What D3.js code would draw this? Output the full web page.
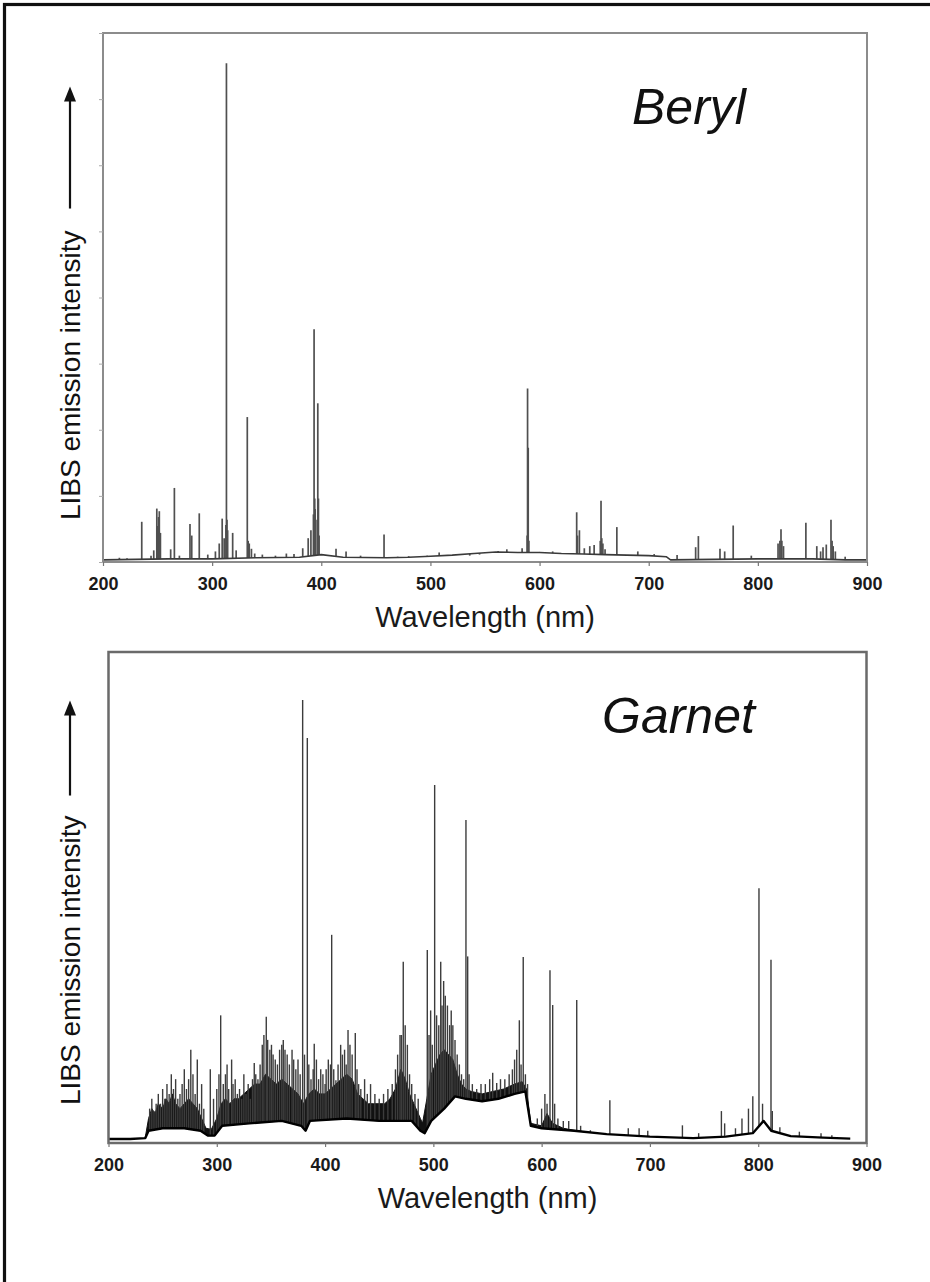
<!DOCTYPE html>
<html>
<head>
<meta charset="utf-8">
<script src="https://cdn.jsdelivr.net/npm/d3@7"></script>
<style>
  body { margin: 0; background: #fff; }
  svg { display: block; }
  text { font-family: "Liberation Sans", Arial, Helvetica, sans-serif; }
</style>
</head>
<body>
<svg id="fig" width="930" height="1282"></svg>
<script>
// Wavelength axis ticks (nm)
const wavelengthTicks = [200, 300, 400, 500, 600, 700, 800, 900];

// ---- Beryl spectrum ----
// slowly varying background (continuum), relative intensity
const berylContWl = [200, 230, 260, 300, 340, 380, 400, 420, 460, 480, 500, 520, 540, 560, 580, 600, 620, 640, 660, 680, 700, 716, 720, 760, 800, 850, 880, 900];
const berylContI  = [0.4, 0.5, 0.6, 0.6, 0.8, 0.9, 1.4, 0.9, 0.8, 0.9, 1.1, 1.3, 1.6, 1.9, 1.8, 1.8, 1.6, 1.5, 1.4, 1.3, 1.2, 1.0, 0.4, 0.5, 0.6, 0.6, 0.4, 0.4];
// emission lines: wavelength (nm) and peak intensity
const berylLineWl = [215, 222, 235.5, 244, 246.5, 249.3, 249.9, 250.2, 250.9, 251.6, 252.6, 262, 265.4, 270, 279.7, 281.3, 288.2, 296, 303, 306.5, 309.2, 311,
  312.6, 313.1, 313.6, 314.2, 318.8, 322, 332.2, 333, 334, 336, 339, 346, 358, 368, 375, 383, 388, 390.5, 392.8, 393.4, 394, 394.4, 396.2, 396.8, 397.4, 398, 413.5,
  422.7, 436, 457.5, 470, 480, 497, 508, 517, 536, 545, 562, 570, 584, 588.6, 589, 589.6, 590.2, 600, 612, 634, 634.7, 636.5, 641,
  646, 650, 655.6, 656.3, 657, 658, 660, 670.8, 690, 705, 726, 743, 745.5, 765.3, 769.6, 777.4, 794, 818.5, 820.2, 821.2, 822, 823.5, 844, 854,
  857.5, 859.7, 862.7, 867, 868, 869, 871, 880];
const berylLineI  = [0.8, 0.7, 7.6, 1.2, 2.2, 10.1, 6.5, 6.8, 8.5, 9.6, 5.5, 2.4, 14, 1.2, 7.2, 5, 9.2, 1.4, 2, 3.5, 8.2, 4.5,
  7, 94.3, 8, 6, 5.5, 2.2, 27.4, 4, 3.5, 2.5, 1.6, 1.4, 1.2, 1.6, 1.5, 2.6, 4.5, 6, 9, 44, 12, 10, 8, 30, 12, 5, 2.5,
  2, 1.2, 5.2, 1, 1.1, 1.2, 1.8, 1.3, 1.2, 1.4, 2.1, 2.4, 2.6, 5, 32.8, 21.6, 4, 1.9, 2, 9.4, 5, 6, 2.6,
  3, 3.2, 4, 11.6, 4.5, 3.5, 2.4, 6.6, 2, 1.5, 1.3, 2.8, 4.9, 2.5, 2, 6.9, 1.2, 3.5, 4, 6.2, 4, 3, 7.4, 3,
  2, 2.8, 3.3, 8.0, 4, 3, 2, 1];

// ---- Garnet spectrum ----
// continuum (lower edge of the trace)
const garnetContWl = [200, 220, 234, 237, 250, 270, 285, 292, 298, 305, 330, 360, 378, 382, 386, 420, 450, 480, 488, 492, 498, 510, 520, 530, 545, 560, 575, 585, 590, 600, 630, 660, 700, 740, 770, 795, 805, 812, 830, 860, 885];
const garnetContI  = [0.8, 0.8, 1.0, 2.5, 3, 3, 2.5, 1.5, 1.5, 3.5, 4, 4.5, 3.5, 2.5, 4.5, 5, 4.5, 4.5, 2.5, 2, 4.5, 7, 9.5, 9, 8.5, 9, 10, 10.5, 3.5, 3, 2.5, 1.8, 1.3, 1.0, 1.3, 2, 4.5, 2.5, 1.4, 1.1, 0.9];
// upper edge of the dense, unresolved band of lines
const garnetBandWl = [234, 237, 240, 243, 246, 250, 253, 256, 259, 262, 266, 270, 274, 278, 282, 286, 290, 295, 300, 304, 308, 312, 316, 320, 325, 330, 335, 340, 345, 350, 355, 360, 365, 370, 375, 380, 385, 390, 395, 400, 405, 410, 415, 420, 425, 430, 435, 440, 445, 450, 455, 460, 465, 470, 474, 478, 482, 486, 490, 494, 498, 502, 506, 510, 514, 518, 522, 526, 530, 535, 545, 555, 565, 575, 582, 586, 590, 600, 605, 610, 620, 640];
const garnetBandI  = [1.2, 5, 7, 6, 8, 7, 9, 8, 10, 8, 7, 8, 9, 8, 7, 5, 3, 2.8, 5, 8, 9, 8, 9, 9, 10, 11, 12, 12, 14, 13, 12, 13, 12, 11, 10, 8, 10, 11, 10, 10, 11, 12, 13, 14, 13, 10, 9, 8, 8, 8, 8, 9, 11, 15, 13, 10, 8, 6, 4, 9, 14, 16, 18, 19, 18, 17, 14, 12, 11, 10.5, 10, 10.5, 11, 12, 12.5, 11, 4, 3.5, 6, 4, 3, 2.2];
// emission lines
const garnetLineWl = [238, 240, 242, 244, 246, 248, 250, 252, 254, 256, 258, 260, 262, 264, 266, 268, 270, 272, 274, 276, 278, 280, 282, 284, 286, 288, 294, 297, 300, 302,
  303.6, 306, 308, 309.5, 311, 313.7, 315, 317, 319, 321, 323, 325, 327, 329, 331, 333, 334.6, 336, 338, 340, 342, 343.5, 345.7, 347, 349, 350.5, 352, 354, 356, 358, 360, 361.4, 363, 365, 367, 369.5, 371, 373, 375, 377,
  379.3, 381, 383.6, 385, 387, 389, 390, 392, 394, 396, 398, 400, 401, 403, 405, 406.1, 408, 410, 412, 414.4, 416, 418, 419.5, 421.2, 423, 425, 427.9, 429.5, 431, 433, 436.5, 439, 442, 446, 450, 454, 458, 462, 465, 467, 469.2, 470.5, 472.2, 474, 476, 478, 480, 483, 486,
  494.4, 496, 497.5, 499, 501.2, 503, 505, 506.8, 508, 509.5, 511, 513, 515, 516.5, 518, 520, 522, 524, 526, 528, 530.1, 531.7, 533, 536, 540, 544, 548, 552, 554.8, 558.5, 562, 566, 570, 573, 575, 577, 579.4, 581, 583, 585, 587,
  596, 600, 603, 605, 607.7, 610.2, 612, 615, 620, 625, 632.4, 636, 645, 663, 680, 690, 698, 730, 745, 766, 769, 779, 785, 791, 795, 800.7, 804, 811.8, 813, 820, 838, 858, 868];
const garnetLineI  = [7, 9, 6.5, 8, 10, 8, 11, 9, 12, 10, 14, 11, 13, 9, 10, 12, 15, 11, 13, 19, 14, 10, 17, 8, 12, 7, 15, 9, 11, 14,
  26, 12, 14, 16, 11, 17, 12, 13, 10, 11, 9, 14, 10, 12, 9, 13, 16.3, 14, 13, 16, 20, 22, 25.7, 21, 19, 20, 18, 17, 16, 19, 20, 21, 19, 18, 16, 19, 17, 15, 17, 14,
  90.2, 18, 82.5, 16, 13, 15, 20.2, 17, 13, 15, 14, 12, 15, 17, 16, 42.4, 15, 12.8, 16, 20, 18, 19, 16, 23, 20, 18, 22.4, 15, 12, 11, 13, 10, 12, 10, 9, 10, 11, 12, 15, 18, 22, 22, 36.9, 24, 20, 14, 12, 10, 9,
  39.3, 22, 27, 20, 72.9, 26, 24, 36.9, 28, 33, 30, 28, 24, 27, 24, 21, 18, 16, 14, 13, 65.8, 38, 14, 12, 11, 12, 12, 13, 14.3, 12.2, 13, 13, 14, 15, 17, 19, 25, 16, 37.9, 14, 12,
  5, 7, 10, 8, 35.2, 28.1, 8, 5, 4.5, 4.5, 29.1, 3.5, 2.6, 8.7, 3, 3, 2.5, 3.6, 2, 6.5, 4, 3, 5, 7, 9.5, 51.9, 8, 37.3, 6.5, 3.2, 2.3, 2, 1.6];

const svg = d3.select("#fig");

// outer figure border (top and left edges fall inside the page)
svg.append("rect")
  .attr("x", 4.5).attr("y", 4.5)
  .attr("width", 960).attr("height", 1320)
  .attr("fill", "none").attr("stroke", "#111").attr("stroke-width", 3.2);

function drawPanel(p) {
  const x = d3.scaleLinear().domain([200, 900]).range([p.left, p.right]);
  const y = d3.scaleLinear().domain([0, 100]).range([p.bottom, p.top]);
  const cont = d3.scaleLinear().domain(p.contWl).range(p.contI).clamp(true);
  const g = svg.append("g");

  // dense band of unresolved lines, filled between continuum and band edge
  if (p.bandWl) {
    const band = d3.scaleLinear().domain(p.bandWl).range(p.bandI).clamp(true);
    const wls = Array.from(new Set([...p.bandWl, ...p.contWl]))
      .filter(w => w >= p.bandWl[0] && w <= p.bandWl[p.bandWl.length - 1])
      .sort((a, b) => a - b);
    g.append("path").datum(wls)
      .attr("d", d3.area()
        .x(w => x(w))
        .y0(w => y(cont(w)))
        .y1(w => y(Math.max(band(w), cont(w)))))
      .attr("fill", "#111").attr("stroke", "#111").attr("stroke-width", 1);
  }

  // emission lines rising from the continuum
  const lines = p.lineWl.map((wl, i) => ({ wl, v: p.lineI[i] }));
  g.append("g").selectAll("line").data(lines).join("line")
    .attr("x1", d => x(d.wl)).attr("x2", d => x(d.wl))
    .attr("y1", d => y(cont(d.wl))).attr("y2", d => y(d.v))
    .attr("stroke", p.lineColor).attr("stroke-width", p.lineWidth);

  // continuum trace
  const pts = p.contWl.map((wl, i) => [wl, p.contI[i]]);
  g.append("path").datum(pts)
    .attr("d", d3.line().x(d => x(d[0])).y(d => y(d[1])))
    .attr("fill", "none").attr("stroke", p.contColor).attr("stroke-width", p.contWidth)
    .attr("stroke-linejoin", "round");

  // frame
  g.append("rect")
    .attr("x", p.left).attr("y", p.top)
    .attr("width", p.right - p.left).attr("height", p.bottom - p.top)
    .attr("fill", "none").attr("stroke", p.frameColor).attr("stroke-width", p.frameWidth);

  // x axis
  const xa = g.append("g").attr("transform", `translate(0,${p.bottom})`)
    .call(d3.axisBottom(x).tickValues(wavelengthTicks).tickSize(4).tickPadding(11).tickFormat(d3.format("d")));
  xa.select(".domain").remove();
  xa.selectAll(".tick line").attr("stroke", "#777").attr("stroke-width", 1.2);
  xa.selectAll(".tick text")
    .attr("fill", "#1a1a1a").style("font-size", "18px").style("font-weight", "bold")
    .style("font-family", "'Liberation Sans', Arial, sans-serif");

  // unlabeled y ticks
  if (p.yTicks) {
    const ya = g.append("g").attr("transform", `translate(${p.left},0)`)
      .call(d3.axisLeft(y).tickValues(d3.range(0, 100.1, 12.5)).tickSize(4).tickFormat(""));
    ya.select(".domain").remove();
    ya.selectAll(".tick line").attr("stroke", "#aaa").attr("stroke-width", 1);
  }

  // x axis title
  g.append("text")
    .attr("x", (p.left + p.right) / 2).attr("y", p.bottom + 65)
    .attr("text-anchor", "middle").attr("fill", "#1a1a1a")
    .style("font-size", "29px")
    .text("Wavelength (nm)");

  // specimen name
  g.append("text")
    .attr("x", p.nameX).attr("y", p.nameY)
    .attr("fill", "#111").style("font-size", "50px").style("font-style", "italic")
    .text(p.name);

  // y axis title with arrow (reads bottom to top)
  const yl = g.append("g").attr("transform", `translate(${p.labelX},${p.labelBottom}) rotate(-90)`);
  const t = yl.append("text").attr("x", 0).attr("y", 0)
    .attr("fill", "#111").style("font-size", "28px")
    .text("LIBS emission intensity");
  const tw = t.node().getComputedTextLength();
  const a0 = tw + p.arrowGap, a1 = tw + p.arrowGap + p.arrowLen;
  const ay = -10;
  yl.append("line").attr("x1", a0).attr("x2", a1 - 8).attr("y1", ay).attr("y2", ay)
    .attr("stroke", "#111").attr("stroke-width", 2.2);
  yl.append("path")
    .attr("d", `M${a1},${ay} L${a1 - 15},${ay - 6} L${a1 - 15},${ay + 6} Z`)
    .attr("fill", "#111");
}

drawPanel({
  left: 103, right: 867, top: 33, bottom: 562,
  contWl: berylContWl, contI: berylContI, lineWl: berylLineWl, lineI: berylLineI,
  lineColor: "#505050", lineWidth: 1.7, contColor: "#3a3a3a", contWidth: 1.6,
  frameColor: "#8c8c8c", frameWidth: 2, yTicks: true,
  name: "Beryl", nameX: 632, nameY: 124,
  labelX: 80, labelBottom: 520, arrowGap: 22, arrowLen: 122
});

drawPanel({
  left: 108.5, right: 866.5, top: 652, bottom: 1143,
  contWl: garnetContWl, contI: garnetContI, lineWl: garnetLineWl, lineI: garnetLineI,
  bandWl: garnetBandWl, bandI: garnetBandI,
  lineColor: "#3c3c3c", lineWidth: 1.4, contColor: "#000", contWidth: 2.4,
  frameColor: "#6a6a6a", frameWidth: 2.5, yTicks: false,
  name: "Garnet", nameX: 602, nameY: 733,
  labelX: 80, labelBottom: 1105, arrowGap: 20, arrowLen: 95
});
</script>
</body>
</html>
